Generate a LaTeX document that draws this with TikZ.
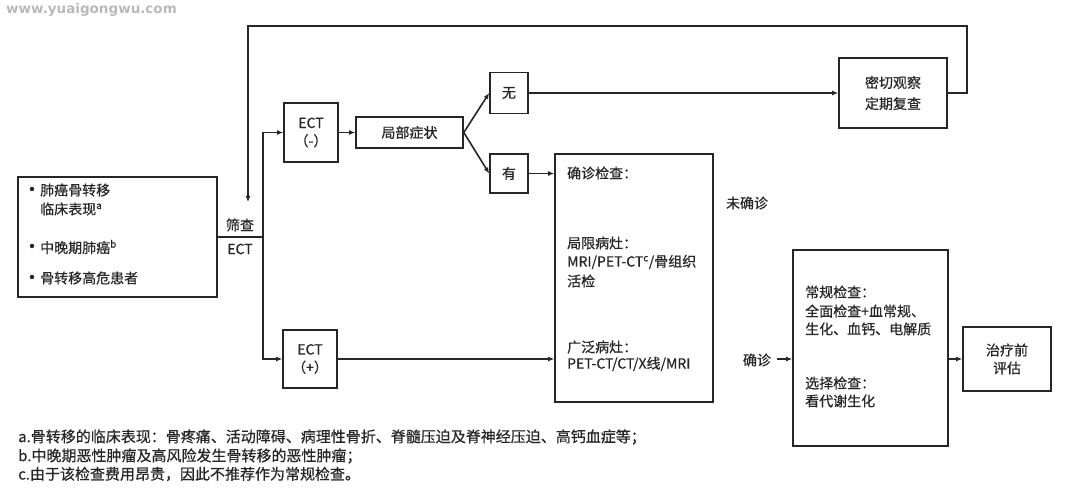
\documentclass[tikz,border=0pt]{standalone}
\usepackage{fontspec}
\setmainfont{Noto Sans CJK SC}[FakeBold=0.6]
\newfontfamily\wmfont{DejaVu Sans}
\usetikzlibrary{arrows.meta}
\definecolor{ink}{gray}{0.15}
\begin{document}
\begin{tikzpicture}[x=1pt,y=-1pt,
  every node/.style={font=\fontsize{14}{18}\selectfont, text=ink, inner sep=0pt},
  box/.style={draw=ink, line width=1.6pt, rectangle},
  conn/.style={draw=ink, line width=1.6pt},
  arr/.style={conn, -{Latex[length=6pt,width=5pt]}},
  lbl/.style={anchor=west, align=left},
  dot/.style={circle, fill=ink, minimum size=4.5pt},
  foot/.style={anchor=west, font=\fontsize{15}{18}\selectfont}]
\useasboundingbox (0,0) rectangle (1080,489);

% watermark
\node[anchor=west, font=\wmfont\bfseries\fontsize{13.5}{14}\selectfont, text=gray!55] (wm) at (6,10) {www.yuaigongwu.com};

% left source box
\node[box, minimum width=199pt, minimum height=120pt] (src) at (117.5,237) {};
\node[dot] (b1) at (32,189) {};
\node[lbl] (s1) at (40,190) {肺癌骨转移};
\node[lbl] (s2) at (40,209) {临床表现\textsuperscript{a}};
\node[dot] (b2) at (32,246) {};
\node[lbl] (s3) at (40,247) {中晚期肺癌\textsuperscript{b}};
\node[dot] (b3) at (32,277) {};
\node[lbl] (s4) at (40,278) {骨转移高危患者};

\node (sc1) at (240,225) {筛查};
\node (sc2) at (240,249) {ECT};

% ECT boxes
\node[box, minimum width=54pt, minimum height=59pt, align=center] (ectm) at (311,132.5) {ECT\\（-）};
\node[box, minimum width=54pt, minimum height=58pt, align=center] (ectp) at (310,359) {ECT\\（+）};

% local symptoms
\node[box, minimum width=107pt, minimum height=31pt] (local) at (409.5,132.5) {局部症状};
\node[box, minimum width=38pt, minimum height=41pt] (wu) at (509,93) {无};
\node[box, minimum width=38pt, minimum height=39pt] (you) at (509,173.5) {有};

% observation
\node[box, minimum width=108pt, minimum height=70pt, align=center,
      font=\fontsize{14}{21}\selectfont] (obs) at (893,93) {密切观察\\定期复查};

% confirm box
\node[box, minimum width=158pt, minimum height=248pt] (conf) at (634,278) {};
\node[lbl] (c1) at (567,173) {确诊检查：};
\node[lbl] (c2) at (567,243) {局限病灶：};
\node[lbl] (c3) at (567,262) {MRI/PET-CT\textsuperscript{c}/骨组织};
\node[lbl] (c4) at (567,281) {活检};
\node[lbl] (c5) at (567,347) {广泛病灶：};
\node[lbl] (c6) at (567,364) {PET-CT/CT/X线/MRI};

\node (nc) at (747,203) {未确诊};
\node (yc) at (757,360) {确诊};

% routine box
\node[box, minimum width=155pt, minimum height=196pt] (rout) at (870.5,348) {};
\node[lbl] (r1) at (805,292) {常规检查：};
\node[lbl] (r2) at (805,311) {全面检查+血常规、};
\node[lbl] (r3) at (805,329) {生化、血钙、电解质};
\node[lbl] (r4) at (805,383) {选择检查：};
\node[lbl] (r5) at (805,401) {看代谢生化};

% pre-treatment
\node[box, minimum width=88pt, minimum height=64pt, align=center] (pre) at (1007,359) {治疗前\\评估};

% connectors
\coordinate (split) at (263,237);
\draw[conn] (src.east) -- (split);
\draw[arr] (split) |- (ectm.west);
\draw[arr] (split) |- (ectp.west);
\draw[arr] (ectm.east) -- (local.west);
\draw[arr] (local.east) -- (wu.west);
\draw[arr] (local.east) -- (you.west);
\draw[arr] (wu.east) -- (obs.west);
\draw[arr] (you.east) -- (you.east -| conf.west);
\draw[arr] (ectp.east) -- (ectp.east -| conf.west);

\coordinate (lr) at (967,26);
\coordinate (lt) at (248,26);
\coordinate (ld) at (248,202);
\draw[arr] (obs.east) -- (obs.east -| lr) -- (lr) -- (lt) -- (ld);

\coordinate (cz) at (777,359);
\draw[arr] (cz) -- (cz -| rout.west);
\draw[arr] (rout.east |- pre.west) -- (pre.west);

% footnotes
\node[foot] (f1) at (18,437) {a.骨转移的临床表现：骨疼痛、活动障碍、病理性骨折、脊髓压迫及脊神经压迫、高钙血症等；};
\node[foot] (f2) at (18,456) {b.中晚期恶性肿瘤及高风险发生骨转移的恶性肿瘤；};
\node[foot] (f3) at (18,474) {c.由于该检查费用昂贵，因此不推荐作为常规检查。};
\end{tikzpicture}
\end{document}
